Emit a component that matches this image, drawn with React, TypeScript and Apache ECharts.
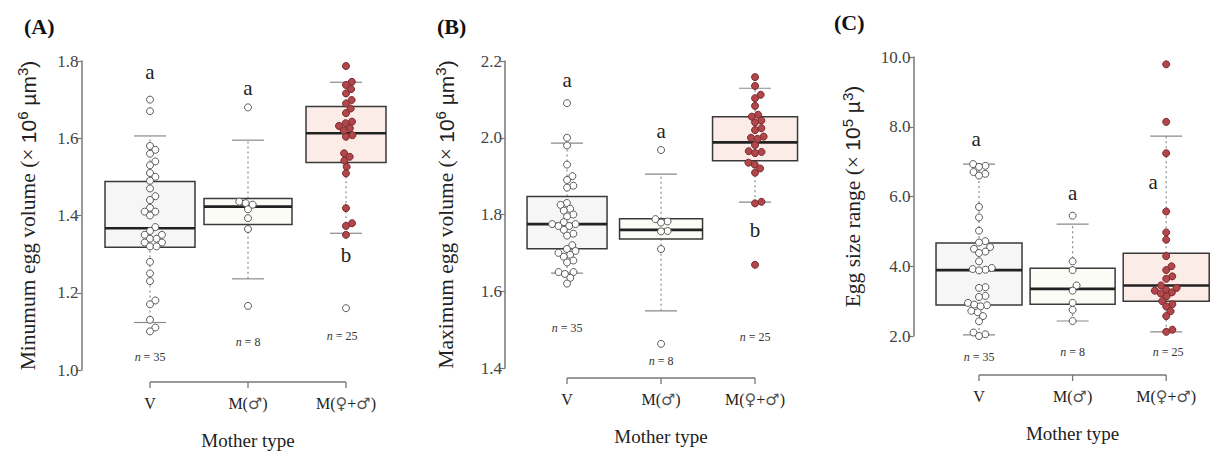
import React, { useEffect, useRef } from "react";
import * as echarts from "echarts";

// ---------- data ----------
const categories = ["V", "M(♂)", "M(♀+♂)"];
const xTitle = "Mother type";
const panelLabels = ["(A)", "(B)", "(C)"];

// Panel A: minimum egg volume (x10^6 µm^3)
const aV = [1.70, 1.67, 1.58, 1.57, 1.56, 1.54, 1.53, 1.51, 1.50, 1.49, 1.47, 1.45, 1.44, 1.42, 1.41, 1.41, 1.40, 1.37, 1.36, 1.35, 1.35, 1.34, 1.34, 1.33, 1.33, 1.32, 1.32, 1.28, 1.25, 1.23, 1.18, 1.17, 1.13, 1.11, 1.10];
const aM = [1.68, 1.436, 1.432, 1.428, 1.416, 1.393, 1.365, 1.166];
const aF = [1.787, 1.746, 1.738, 1.727, 1.716, 1.699, 1.69, 1.677, 1.665, 1.643, 1.639, 1.632, 1.626, 1.62, 1.608, 1.604, 1.561, 1.552, 1.542, 1.526, 1.509, 1.419, 1.38, 1.373, 1.35];
const aFOut = [1.16];
// box stats: [lower whisker, Q1, median, Q3, upper whisker]
const aBox = [
  [1.123, 1.318, 1.367, 1.488, 1.606],
  [1.236, 1.377, 1.423, 1.444, 1.595],
  [1.354, 1.537, 1.613, 1.682, 1.745],
];
const aLetters = ["a", "a", "b"];
const aLetterPos = [[1, 1.772], [2, 1.73], [3, 1.298]];
const aN = ["35", "8", "25"];
const aNPos = [[1, 1.034], [2, 1.073], [2.96, 1.088]];

// Panel B: maximum egg volume (x10^6 µm^3)
const bV = [2.09, 2.00, 1.98, 1.93, 1.90, 1.89, 1.875, 1.87, 1.83, 1.825, 1.815, 1.81, 1.80, 1.795, 1.78, 1.775, 1.775, 1.77, 1.77, 1.76, 1.75, 1.745, 1.72, 1.71, 1.705, 1.70, 1.695, 1.69, 1.68, 1.675, 1.65, 1.65, 1.645, 1.635, 1.62];
const bM = [1.968, 1.788, 1.782, 1.779, 1.757, 1.756, 1.71, 1.463];
const bF = [2.158, 2.135, 2.112, 2.103, 2.083, 2.06, 2.055, 2.045, 2.04, 2.025, 2.02, 2.003, 2.0, 1.997, 1.981, 1.965, 1.963, 1.96, 1.935, 1.93, 1.92, 1.909, 1.833, 1.829, 1.669];
const bFOut: number[] = [];
const bBox = [
  [1.647, 1.711, 1.775, 1.847, 1.986],
  [1.549, 1.736, 1.76, 1.789, 1.905],
  [1.832, 1.94, 1.988, 2.055, 2.129],
];
const bLetters = ["a", "a", "b"];
const bLetterPos = [[1, 2.151], [2, 2.018], [3, 1.76]];
const bN = ["35", "8", "25"];
const bNPos = [[1, 1.505], [2, 1.419], [3, 1.482]];

// Panel C: egg size range (x10^5 µ^3)
const cV = [6.93, 6.88, 6.85, 6.7, 6.65, 6.6, 5.7, 5.4, 5.02, 4.72, 4.68, 4.55, 4.5, 4.42, 4.38, 4.14, 3.95, 3.92, 3.9, 3.88, 3.4, 3.38, 3.15, 3.12, 2.95, 2.9, 2.88, 2.85, 2.72, 2.68, 2.57, 2.42, 2.1, 2.05, 2.0];
const cM = [5.45, 4.14, 3.89, 3.45, 3.3, 2.95, 2.75, 2.43];
const cF = [9.79, 8.14, 7.24, 5.57, 4.97, 4.76, 4.29, 4.0, 3.89, 3.71, 3.64, 3.45, 3.38, 3.33, 3.3, 3.25, 3.22, 3.14, 3.0, 2.91, 2.85, 2.71, 2.57, 2.18, 2.12];
const cFOut: number[] = [];
const cBox = [
  [2.03, 2.89, 3.89, 4.67, 6.93],
  [2.43, 2.91, 3.35, 3.94, 5.21],
  [2.12, 3.0, 3.45, 4.37, 7.73],
];
const cLetters = ["a", "a", "a"];
const cLetterPos = [[0.97, 7.64], [2, 6.1], [2.86, 6.43]];
const cN = ["35", "8", "25"];
const cNPos = [[1, 1.41], [2, 1.53], [3.02, 1.54]];

const yNames = [
  "{t|Minumum egg volume (× }{s|10}{p|6}{s| µm}{p|3}{s|)}",
  "{t|Maximum egg volume (× }{s|10}{p|6}{s| µm}{p|3}{s|)}",
  "{t|Egg size range (× }{s|10}{p|5}{s| µ}{p|3}{s|)}",
];

// ---------- layout / style ----------
const SERIF = "'Liberation Serif', 'DejaVu Serif', serif";
const SANS = "'Liberation Sans', 'DejaVu Sans', sans-serif";
const boxFills = ["#f6f6f6", "#fcfcf7", "#fcece7"];
const layout = [
  { left: 81.4, top: 61, height: 309, xmin: 0.3, xmax: 3.5, pxX: 98, ymin: 1.0, ymax: 1.8, interval: 0.2, nameGap: 40, bracketOff: 12, boxW: [90, 88, 80], titleX: 19, titleY: 10 },
  { left: 505, top: 61, height: 307, xmin: 0.34, xmax: 3.5, pxX: 94, ymin: 1.4, ymax: 2.2, interval: 0.2, nameGap: 46, bracketOff: 10, boxW: [80, 83, 85], titleX: 432, titleY: 10 },
  { left: 913.5, top: 57, height: 279, xmin: 0.3, xmax: 3.5, pxX: 95, ymin: 2, ymax: 10, interval: 2, nameGap: 48, bracketOff: 39, boxW: [86, 85, 86], titleX: 829, titleY: 6 },
];

const panels = [
  { groups: [aV, aM, aF], out: aFOut, box: aBox, letters: aLetters, letterPos: aLetterPos, n: aN, nPos: aNPos },
  { groups: [bV, bM, bF], out: bFOut, box: bBox, letters: bLetters, letterPos: bLetterPos, n: bN, nPos: bNPos },
  { groups: [cV, cM, cF], out: cFOut, box: cBox, letters: cLetters, letterPos: cLetterPos, n: cN, nPos: cNPos },
];

// beeswarm offsets in pixels
function swarm(values: number[], pxPerUnit: number, d: number): number[] {
  const order = values.map((_, i) => i).sort((a, b) => values[a] - values[b]);
  const placed: { x: number; y: number }[] = [];
  const off = new Array(values.length).fill(0);
  for (const i of order) {
    const y = values[i] * pxPerUnit;
    const cands = [0];
    for (const p of placed) {
      const dy = Math.abs(p.y - y);
      if (dy < d) {
        const dx = Math.sqrt(d * d - dy * dy);
        cands.push(p.x + dx, p.x - dx);
      }
    }
    cands.sort((a, b) => Math.abs(a) - Math.abs(b));
    let best = 0;
    for (const c of cands) {
      if (placed.every((p) => (p.x - c) ** 2 + (p.y - y) ** 2 >= d * d - 1e-6)) {
        best = c;
        break;
      }
    }
    placed.push({ x: best, y });
    off[i] = best;
  }
  return off;
}

const symRich = (s: string) => s.replace(/([♀♂])/g, "{g|$1}");

function buildOption() {
  const grid: any[] = [];
  const xAxis: any[] = [];
  const yAxis: any[] = [];
  const series: any[] = [];
  const title: any[] = [];

  panels.forEach((P, k) => {
    const L = layout[k];
    const width = (L.xmax - L.xmin) * L.pxX;
    const pxY = L.height / (L.ymax - L.ymin);
    grid.push({ left: L.left, top: L.top, width, height: L.height });
    xAxis.push({ type: "value", gridIndex: k, min: L.xmin, max: L.xmax, show: false });
    yAxis.push({
      type: "value",
      gridIndex: k,
      min: L.ymin,
      max: L.ymax,
      interval: L.interval,
      splitLine: { show: false },
      axisLine: { show: true, lineStyle: { color: "#777", width: 1.5 } },
      axisTick: { show: true, length: 5, lineStyle: { color: "#777", width: 1.2 } },
      axisLabel: { color: "#444", fontFamily: SERIF, fontSize: 17, margin: 3, formatter: (v: number) => v.toFixed(1) },
      name: yNames[k],
      nameLocation: "middle",
      nameGap: L.nameGap,
      nameTextStyle: {
        rich: {
          t: { fontFamily: SERIF, fontSize: 21.5, color: "#222", lineHeight: 26 },
          s: { fontFamily: SANS, fontSize: 21, color: "#222", lineHeight: 26 },
          p: { fontFamily: SANS, fontSize: 15, color: "#222", verticalAlign: "top", lineHeight: 16 },
        },
      },
    });
    title.push({
      text: panelLabels[k],
      left: L.titleX,
      top: L.titleY,
      textStyle: { fontFamily: SERIF, fontWeight: "bold", fontSize: 22, color: "#111" },
    });

    // boxes
    series.push({
      type: "custom",
      xAxisIndex: k,
      yAxisIndex: k,
      clip: false,
      z: 2,
      data: P.box.map((b, i) => [i + 1, ...b]),
      encode: { x: 0, y: [1, 2, 3, 4, 5] },
      renderItem: (params: any, api: any) => {
        const c = api.value(0);
        const lo = api.coord([c, api.value(1)]);
        const q1 = api.coord([c, api.value(2)]);
        const md = api.coord([c, api.value(3)]);
        const q3 = api.coord([c, api.value(4)]);
        const hi = api.coord([c, api.value(5)]);
        const x = lo[0];
        const bw = L.boxW[params.dataIndex];
        const cw = 32;
        const dash = { stroke: "#8a8a8a", lineWidth: 1.2, lineDash: [2, 3] };
        const cap = { stroke: "#8a8a8a", lineWidth: 1.2 };
        return {
          type: "group",
          children: [
            { type: "line", shape: { x1: x, y1: lo[1], x2: x, y2: q1[1] }, style: dash },
            { type: "line", shape: { x1: x, y1: q3[1], x2: x, y2: hi[1] }, style: dash },
            { type: "line", shape: { x1: x - cw / 2, y1: lo[1], x2: x + cw / 2, y2: lo[1] }, style: cap },
            { type: "line", shape: { x1: x - cw / 2, y1: hi[1], x2: x + cw / 2, y2: hi[1] }, style: cap },
            {
              type: "rect",
              shape: { x: x - bw / 2, y: q3[1], width: bw, height: q1[1] - q3[1] },
              style: { fill: boxFills[params.dataIndex], stroke: "#3a3a3a", lineWidth: 1.5 },
            },
            { type: "line", shape: { x1: x - bw / 2, y1: md[1], x2: x + bw / 2, y2: md[1] }, style: { stroke: "#222", lineWidth: 2.6 } },
          ],
        };
      },
    });

    // points
    const hollow: number[][] = [];
    const red: number[][] = [];
    P.groups.forEach((vals, g) => {
      const offs = swarm(vals, pxY, 6.6);
      vals.forEach((v, i) => {
        const pt = [g + 1 + offs[i] / L.pxX, v];
        if (g === 2) red.push(pt);
        else hollow.push(pt);
      });
    });
    P.out.forEach((v) => hollow.push([3, v]));
    series.push({
      type: "scatter",
      xAxisIndex: k,
      yAxisIndex: k,
      z: 3,
      symbol: "circle",
      symbolSize: 7,
      data: hollow,
      itemStyle: { color: "#ffffff", borderColor: "#5a5a5a", borderWidth: 1, opacity: 1 },
    });
    series.push({
      type: "scatter",
      xAxisIndex: k,
      yAxisIndex: k,
      z: 3,
      symbol: "circle",
      symbolSize: 7,
      data: red,
      itemStyle: { color: "#b2474b", borderColor: "#7a2a2e", borderWidth: 1, opacity: 1 },
    });

    // letters
    series.push({
      type: "custom",
      xAxisIndex: k,
      yAxisIndex: k,
      clip: false,
      z: 4,
      data: P.letterPos,
      encode: { x: 0, y: 1 },
      renderItem: (params: any, api: any) => {
        const p = api.coord([api.value(0), api.value(1)]);
        return {
          type: "text",
          x: p[0],
          y: p[1],
          style: { text: P.letters[params.dataIndex], fontFamily: SERIF, fontSize: 21, fill: "#222", align: "center", verticalAlign: "middle" },
        };
      },
    });
    // n labels
    series.push({
      type: "custom",
      xAxisIndex: k,
      yAxisIndex: k,
      clip: false,
      z: 4,
      data: P.nPos,
      encode: { x: 0, y: 1 },
      renderItem: (params: any, api: any) => {
        const p = api.coord([api.value(0), api.value(1)]);
        return {
          type: "text",
          x: p[0],
          y: p[1],
          style: {
            text: "{i|n} = " + P.n[params.dataIndex],
            fontFamily: SERIF,
            fontSize: 12,
            fill: "#333",
            align: "center",
            verticalAlign: "middle",
            rich: { i: { fontStyle: "italic", fontFamily: SERIF, fontSize: 12, fill: "#333" } },
          },
        };
      },
    });
    // bracket x axis
    series.push({
      type: "custom",
      xAxisIndex: k,
      yAxisIndex: k,
      clip: false,
      z: 4,
      data: [[2, L.ymin]],
      encode: { x: 0, y: 1 },
      renderItem: (params: any, api: any) => {
        const ym = api.value(1);
        const ps = categories.map((_, i) => api.coord([i + 1, ym]));
        const by = ps[0][1] + L.bracketOff;
        const st = { stroke: "#777", lineWidth: 1.3 };
        const children: any[] = [
          { type: "line", shape: { x1: ps[0][0], y1: by, x2: ps[2][0], y2: by }, style: st },
        ];
        ps.forEach((p, i) => {
          children.push({ type: "line", shape: { x1: p[0], y1: by, x2: p[0], y2: by + 6 }, style: st });
          children.push({
            type: "text",
            x: p[0],
            y: by + 21,
            style: {
              text: symRich(categories[i]),
              fontFamily: SERIF,
              fontSize: 16,
              fill: "#222",
              align: "center",
              verticalAlign: "middle",
              rich: { g: { fontFamily: "'DejaVu Sans', sans-serif", fontSize: 16, fill: "#555" } },
            },
          });
        });
        children.push({
          type: "text",
          x: ps[1][0],
          y: by + 58,
          style: { text: xTitle, fontFamily: SERIF, fontSize: 19, fill: "#222", align: "center", verticalAlign: "middle" },
        });
        return { type: "group", children };
      },
    });
  });

  return { animation: false, backgroundColor: "#ffffff", title, grid, xAxis, yAxis, series };
}

export default function App() {
  const ref = useRef<HTMLDivElement>(null);
  useEffect(() => {
    if (!ref.current) return;
    const chart = echarts.init(ref.current, undefined, { renderer: "svg" });
    chart.setOption(buildOption() as any);
    return () => chart.dispose();
  }, []);
  return <div ref={ref} style={{ position: "absolute", left: 0, top: 0, width: 1213, height: 454 }} />;
}
